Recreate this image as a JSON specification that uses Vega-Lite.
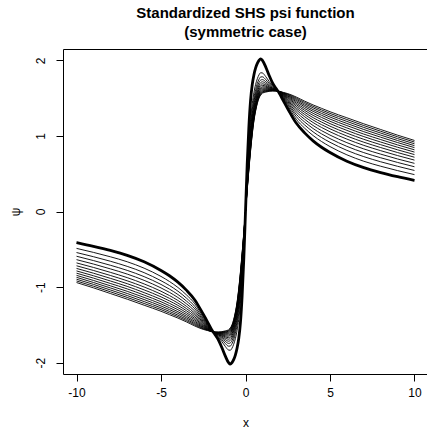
{
  "$schema": "https://vega.github.io/schema/vega-lite/v6.json",
  "width": 365,
  "height": 325,
  "autosize": {"type": "none"},
  "padding": {"left": 63, "top": 49, "right": 0, "bottom": 59},
  "background": "white",
  "title": {
    "text": ["Standardized SHS psi function", "(symmetric case)"],
    "font": "Liberation Sans",
    "fontSize": 15,
    "fontWeight": "bold",
    "color": "black",
    "anchor": "middle",
    "offset": 9,
    "lineHeight": 19
  },
  "config": {
    "view": {"stroke": "black", "strokeWidth": 1},
    "axis": {
      "domain": false,
      "grid": false,
      "ticks": true,
      "tickColor": "black",
      "tickSize": 7,
      "labelFont": "Liberation Sans",
      "labelFontSize": 12,
      "labelColor": "black",
      "titleFont": "Liberation Sans",
      "titleFontSize": 12,
      "titleFontWeight": "normal",
      "titleColor": "black"
    }
  },
  "data": {
    "values": [
      {"x": -10, "k0": -0.41, "k1": -0.488, "k2": -0.543, "k3": -0.592, "k4": -0.637, "k5": -0.68, "k6": -0.718, "k7": -0.753, "k8": -0.786, "k9": -0.816, "k10": -0.845, "k11": -0.871, "k12": -0.896, "k13": -0.919, "k14": -0.94},
      {"x": -9, "k0": -0.46, "k1": -0.541, "k2": -0.598, "k3": -0.649, "k4": -0.695, "k5": -0.74, "k6": -0.78, "k7": -0.816, "k8": -0.85, "k9": -0.881, "k10": -0.912, "k11": -0.939, "k12": -0.964, "k13": -0.988, "k14": -1.01},
      {"x": -8, "k0": -0.515, "k1": -0.599, "k2": -0.658, "k3": -0.711, "k4": -0.759, "k5": -0.805, "k6": -0.846, "k7": -0.884, "k8": -0.919, "k9": -0.952, "k10": -0.983, "k11": -1.011, "k12": -1.038, "k13": -1.062, "k14": -1.085},
      {"x": -7, "k0": -0.58, "k1": -0.665, "k2": -0.726, "k3": -0.779, "k4": -0.828, "k5": -0.875, "k6": -0.917, "k7": -0.955, "k8": -0.991, "k9": -1.024, "k10": -1.056, "k11": -1.085, "k12": -1.112, "k13": -1.137, "k14": -1.16},
      {"x": -6, "k0": -0.665, "k1": -0.75, "k2": -0.809, "k3": -0.862, "k4": -0.911, "k5": -0.958, "k6": -0.999, "k7": -1.037, "k8": -1.073, "k9": -1.106, "k10": -1.137, "k11": -1.165, "k12": -1.192, "k13": -1.217, "k14": -1.24},
      {"x": -5, "k0": -0.78, "k1": -0.859, "k2": -0.916, "k3": -0.965, "k4": -1.011, "k5": -1.055, "k6": -1.094, "k7": -1.129, "k8": -1.163, "k9": -1.194, "k10": -1.223, "k11": -1.25, "k12": -1.275, "k13": -1.298, "k14": -1.32},
      {"x": -4.5, "k0": -0.85, "k1": -0.926, "k2": -0.979, "k3": -1.027, "k4": -1.07, "k5": -1.112, "k6": -1.149, "k7": -1.183, "k8": -1.215, "k9": -1.245, "k10": -1.273, "k11": -1.298, "k12": -1.322, "k13": -1.344, "k14": -1.365},
      {"x": -4, "k0": -0.935, "k1": -1.005, "k2": -1.054, "k3": -1.098, "k4": -1.138, "k5": -1.177, "k6": -1.211, "k7": -1.242, "k8": -1.272, "k9": -1.299, "k10": -1.325, "k11": -1.348, "k12": -1.371, "k13": -1.391, "k14": -1.41},
      {"x": -3.5, "k0": -1.04, "k1": -1.102, "k2": -1.145, "k3": -1.184, "k4": -1.22, "k5": -1.254, "k6": -1.284, "k7": -1.312, "k8": -1.338, "k9": -1.362, "k10": -1.385, "k11": -1.405, "k12": -1.425, "k13": -1.443, "k14": -1.46},
      {"x": -3, "k0": -1.17, "k1": -1.221, "k2": -1.257, "k3": -1.288, "k4": -1.318, "k5": -1.346, "k6": -1.37, "k7": -1.393, "k8": -1.415, "k9": -1.434, "k10": -1.453, "k11": -1.47, "k12": -1.486, "k13": -1.501, "k14": -1.515},
      {"x": -2.5, "k0": -1.36, "k1": -1.399, "k2": -1.42, "k3": -1.438, "k4": -1.455, "k5": -1.47, "k6": -1.483, "k7": -1.496, "k8": -1.507, "k9": -1.518, "k10": -1.528, "k11": -1.537, "k12": -1.545, "k13": -1.553, "k14": -1.56},
      {"x": -2.25, "k0": -1.46, "k1": -1.488, "k2": -1.5, "k3": -1.511, "k4": -1.52, "k5": -1.528, "k6": -1.535, "k7": -1.542, "k8": -1.548, "k9": -1.553, "k10": -1.558, "k11": -1.563, "k12": -1.567, "k13": -1.571, "k14": -1.575},
      {"x": -2, "k0": -1.565, "k1": -1.572, "k2": -1.575, "k3": -1.577, "k4": -1.579, "k5": -1.581, "k6": -1.582, "k7": -1.584, "k8": -1.585, "k9": -1.586, "k10": -1.587, "k11": -1.588, "k12": -1.589, "k13": -1.589, "k14": -1.59},
      {"x": -1.8, "k0": -1.63, "k1": -1.618, "k2": -1.614, "k3": -1.611, "k4": -1.609, "k5": -1.606, "k6": -1.605, "k7": -1.603, "k8": -1.601, "k9": -1.6, "k10": -1.599, "k11": -1.598, "k12": -1.597, "k13": -1.596, "k14": -1.595},
      {"x": -1.6, "k0": -1.7, "k1": -1.66, "k2": -1.647, "k3": -1.638, "k4": -1.631, "k5": -1.625, "k6": -1.62, "k7": -1.616, "k8": -1.612, "k9": -1.608, "k10": -1.605, "k11": -1.602, "k12": -1.599, "k13": -1.597, "k14": -1.595},
      {"x": -1.4, "k0": -1.8, "k1": -1.72, "k2": -1.695, "k3": -1.677, "k4": -1.663, "k5": -1.65, "k6": -1.64, "k7": -1.631, "k8": -1.623, "k9": -1.616, "k10": -1.61, "k11": -1.604, "k12": -1.599, "k13": -1.594, "k14": -1.59},
      {"x": -1.2, "k0": -1.91, "k1": -1.784, "k2": -1.745, "k3": -1.717, "k4": -1.694, "k5": -1.675, "k6": -1.659, "k7": -1.645, "k8": -1.632, "k9": -1.621, "k10": -1.611, "k11": -1.602, "k12": -1.594, "k13": -1.587, "k14": -1.58},
      {"x": -1, "k0": -2.0, "k1": -1.833, "k2": -1.782, "k3": -1.745, "k4": -1.716, "k5": -1.69, "k6": -1.669, "k7": -1.65, "k8": -1.634, "k9": -1.619, "k10": -1.606, "k11": -1.594, "k12": -1.583, "k13": -1.574, "k14": -1.565},
      {"x": -0.9, "k0": -2.02, "k1": -1.836, "k2": -1.78, "k3": -1.739, "k4": -1.706, "k5": -1.678, "k6": -1.654, "k7": -1.634, "k8": -1.616, "k9": -1.6, "k10": -1.585, "k11": -1.572, "k12": -1.56, "k13": -1.55, "k14": -1.54},
      {"x": -0.8, "k0": -2.0, "k1": -1.809, "k2": -1.75, "k3": -1.707, "k4": -1.673, "k5": -1.644, "k6": -1.619, "k7": -1.598, "k8": -1.579, "k9": -1.563, "k10": -1.547, "k11": -1.534, "k12": -1.521, "k13": -1.51, "k14": -1.5},
      {"x": -0.7, "k0": -1.96, "k1": -1.757, "k2": -1.695, "k3": -1.649, "k4": -1.613, "k5": -1.582, "k6": -1.556, "k7": -1.534, "k8": -1.514, "k9": -1.496, "k10": -1.48, "k11": -1.466, "k12": -1.452, "k13": -1.441, "k14": -1.43},
      {"x": -0.6, "k0": -1.9, "k1": -1.682, "k2": -1.614, "k3": -1.566, "k4": -1.527, "k5": -1.494, "k6": -1.466, "k7": -1.442, "k8": -1.42, "k9": -1.401, "k10": -1.384, "k11": -1.368, "k12": -1.354, "k13": -1.341, "k14": -1.33},
      {"x": -0.5, "k0": -1.81, "k1": -1.576, "k2": -1.504, "k3": -1.453, "k4": -1.411, "k5": -1.375, "k6": -1.345, "k7": -1.32, "k8": -1.296, "k9": -1.276, "k10": -1.257, "k11": -1.241, "k12": -1.226, "k13": -1.212, "k14": -1.2},
      {"x": -0.4, "k0": -1.68, "k1": -1.427, "k2": -1.349, "k3": -1.293, "k4": -1.248, "k5": -1.209, "k6": -1.177, "k7": -1.149, "k8": -1.124, "k9": -1.103, "k10": -1.082, "k11": -1.064, "k12": -1.048, "k13": -1.033, "k14": -1.02},
      {"x": -0.3, "k0": -1.47, "k1": -1.213, "k2": -1.134, "k3": -1.077, "k4": -1.032, "k5": -0.992, "k6": -0.96, "k7": -0.931, "k8": -0.906, "k9": -0.884, "k10": -0.863, "k11": -0.845, "k12": -0.828, "k13": -0.813, "k14": -0.8},
      {"x": -0.2, "k0": -1.12, "k1": -0.902, "k2": -0.834, "k3": -0.786, "k4": -0.747, "k5": -0.714, "k6": -0.686, "k7": -0.662, "k8": -0.64, "k9": -0.621, "k10": -0.604, "k11": -0.588, "k12": -0.574, "k13": -0.561, "k14": -0.55},
      {"x": -0.1, "k0": -0.62, "k1": -0.49, "k2": -0.45, "k3": -0.421, "k4": -0.398, "k5": -0.378, "k6": -0.361, "k7": -0.347, "k8": -0.334, "k9": -0.322, "k10": -0.312, "k11": -0.303, "k12": -0.294, "k13": -0.287, "k14": -0.28},
      {"x": 0, "k0": 0, "k1": 0, "k2": 0, "k3": 0, "k4": 0, "k5": 0, "k6": 0, "k7": 0, "k8": 0, "k9": 0, "k10": 0, "k11": 0, "k12": 0, "k13": 0, "k14": 0},
      {"x": 0.1, "k0": 0.62, "k1": 0.49, "k2": 0.45, "k3": 0.421, "k4": 0.398, "k5": 0.378, "k6": 0.361, "k7": 0.347, "k8": 0.334, "k9": 0.322, "k10": 0.312, "k11": 0.303, "k12": 0.294, "k13": 0.287, "k14": 0.28},
      {"x": 0.2, "k0": 1.12, "k1": 0.902, "k2": 0.834, "k3": 0.786, "k4": 0.747, "k5": 0.714, "k6": 0.686, "k7": 0.662, "k8": 0.64, "k9": 0.621, "k10": 0.604, "k11": 0.588, "k12": 0.574, "k13": 0.561, "k14": 0.55},
      {"x": 0.3, "k0": 1.47, "k1": 1.213, "k2": 1.134, "k3": 1.077, "k4": 1.032, "k5": 0.992, "k6": 0.96, "k7": 0.931, "k8": 0.906, "k9": 0.884, "k10": 0.863, "k11": 0.845, "k12": 0.828, "k13": 0.813, "k14": 0.8},
      {"x": 0.4, "k0": 1.68, "k1": 1.427, "k2": 1.349, "k3": 1.293, "k4": 1.248, "k5": 1.209, "k6": 1.177, "k7": 1.149, "k8": 1.124, "k9": 1.103, "k10": 1.082, "k11": 1.064, "k12": 1.048, "k13": 1.033, "k14": 1.02},
      {"x": 0.5, "k0": 1.81, "k1": 1.576, "k2": 1.504, "k3": 1.453, "k4": 1.411, "k5": 1.375, "k6": 1.345, "k7": 1.32, "k8": 1.296, "k9": 1.276, "k10": 1.257, "k11": 1.241, "k12": 1.226, "k13": 1.212, "k14": 1.2},
      {"x": 0.6, "k0": 1.9, "k1": 1.682, "k2": 1.614, "k3": 1.566, "k4": 1.527, "k5": 1.494, "k6": 1.466, "k7": 1.442, "k8": 1.42, "k9": 1.401, "k10": 1.384, "k11": 1.368, "k12": 1.354, "k13": 1.341, "k14": 1.33},
      {"x": 0.7, "k0": 1.96, "k1": 1.757, "k2": 1.695, "k3": 1.649, "k4": 1.613, "k5": 1.582, "k6": 1.556, "k7": 1.534, "k8": 1.514, "k9": 1.496, "k10": 1.48, "k11": 1.466, "k12": 1.452, "k13": 1.441, "k14": 1.43},
      {"x": 0.8, "k0": 2.0, "k1": 1.809, "k2": 1.75, "k3": 1.707, "k4": 1.673, "k5": 1.644, "k6": 1.619, "k7": 1.598, "k8": 1.579, "k9": 1.563, "k10": 1.547, "k11": 1.534, "k12": 1.521, "k13": 1.51, "k14": 1.5},
      {"x": 0.9, "k0": 2.02, "k1": 1.836, "k2": 1.78, "k3": 1.739, "k4": 1.706, "k5": 1.678, "k6": 1.654, "k7": 1.634, "k8": 1.616, "k9": 1.6, "k10": 1.585, "k11": 1.572, "k12": 1.56, "k13": 1.55, "k14": 1.54},
      {"x": 1, "k0": 2.0, "k1": 1.833, "k2": 1.782, "k3": 1.745, "k4": 1.716, "k5": 1.69, "k6": 1.669, "k7": 1.65, "k8": 1.634, "k9": 1.619, "k10": 1.606, "k11": 1.594, "k12": 1.583, "k13": 1.574, "k14": 1.565},
      {"x": 1.2, "k0": 1.91, "k1": 1.784, "k2": 1.745, "k3": 1.717, "k4": 1.694, "k5": 1.675, "k6": 1.659, "k7": 1.645, "k8": 1.632, "k9": 1.621, "k10": 1.611, "k11": 1.602, "k12": 1.594, "k13": 1.587, "k14": 1.58},
      {"x": 1.4, "k0": 1.8, "k1": 1.72, "k2": 1.695, "k3": 1.677, "k4": 1.663, "k5": 1.65, "k6": 1.64, "k7": 1.631, "k8": 1.623, "k9": 1.616, "k10": 1.61, "k11": 1.604, "k12": 1.599, "k13": 1.594, "k14": 1.59},
      {"x": 1.6, "k0": 1.7, "k1": 1.66, "k2": 1.647, "k3": 1.638, "k4": 1.631, "k5": 1.625, "k6": 1.62, "k7": 1.616, "k8": 1.612, "k9": 1.608, "k10": 1.605, "k11": 1.602, "k12": 1.599, "k13": 1.597, "k14": 1.595},
      {"x": 1.8, "k0": 1.63, "k1": 1.618, "k2": 1.614, "k3": 1.611, "k4": 1.609, "k5": 1.606, "k6": 1.605, "k7": 1.603, "k8": 1.601, "k9": 1.6, "k10": 1.599, "k11": 1.598, "k12": 1.597, "k13": 1.596, "k14": 1.595},
      {"x": 2, "k0": 1.565, "k1": 1.572, "k2": 1.575, "k3": 1.577, "k4": 1.579, "k5": 1.581, "k6": 1.582, "k7": 1.584, "k8": 1.585, "k9": 1.586, "k10": 1.587, "k11": 1.588, "k12": 1.589, "k13": 1.589, "k14": 1.59},
      {"x": 2.25, "k0": 1.46, "k1": 1.488, "k2": 1.5, "k3": 1.511, "k4": 1.52, "k5": 1.528, "k6": 1.535, "k7": 1.542, "k8": 1.548, "k9": 1.553, "k10": 1.558, "k11": 1.563, "k12": 1.567, "k13": 1.571, "k14": 1.575},
      {"x": 2.5, "k0": 1.36, "k1": 1.399, "k2": 1.42, "k3": 1.438, "k4": 1.455, "k5": 1.47, "k6": 1.483, "k7": 1.496, "k8": 1.507, "k9": 1.518, "k10": 1.528, "k11": 1.537, "k12": 1.545, "k13": 1.553, "k14": 1.56},
      {"x": 3, "k0": 1.17, "k1": 1.221, "k2": 1.257, "k3": 1.288, "k4": 1.318, "k5": 1.346, "k6": 1.37, "k7": 1.393, "k8": 1.415, "k9": 1.434, "k10": 1.453, "k11": 1.47, "k12": 1.486, "k13": 1.501, "k14": 1.515},
      {"x": 3.5, "k0": 1.04, "k1": 1.102, "k2": 1.145, "k3": 1.184, "k4": 1.22, "k5": 1.254, "k6": 1.284, "k7": 1.312, "k8": 1.338, "k9": 1.362, "k10": 1.385, "k11": 1.405, "k12": 1.425, "k13": 1.443, "k14": 1.46},
      {"x": 4, "k0": 0.935, "k1": 1.005, "k2": 1.054, "k3": 1.098, "k4": 1.138, "k5": 1.177, "k6": 1.211, "k7": 1.242, "k8": 1.272, "k9": 1.299, "k10": 1.325, "k11": 1.348, "k12": 1.371, "k13": 1.391, "k14": 1.41},
      {"x": 4.5, "k0": 0.85, "k1": 0.926, "k2": 0.979, "k3": 1.027, "k4": 1.07, "k5": 1.112, "k6": 1.149, "k7": 1.183, "k8": 1.215, "k9": 1.245, "k10": 1.273, "k11": 1.298, "k12": 1.322, "k13": 1.344, "k14": 1.365},
      {"x": 5, "k0": 0.78, "k1": 0.859, "k2": 0.916, "k3": 0.965, "k4": 1.011, "k5": 1.055, "k6": 1.094, "k7": 1.129, "k8": 1.163, "k9": 1.194, "k10": 1.223, "k11": 1.25, "k12": 1.275, "k13": 1.298, "k14": 1.32},
      {"x": 6, "k0": 0.665, "k1": 0.75, "k2": 0.809, "k3": 0.862, "k4": 0.911, "k5": 0.958, "k6": 0.999, "k7": 1.037, "k8": 1.073, "k9": 1.106, "k10": 1.137, "k11": 1.165, "k12": 1.192, "k13": 1.217, "k14": 1.24},
      {"x": 7, "k0": 0.58, "k1": 0.665, "k2": 0.726, "k3": 0.779, "k4": 0.828, "k5": 0.875, "k6": 0.917, "k7": 0.955, "k8": 0.991, "k9": 1.024, "k10": 1.056, "k11": 1.085, "k12": 1.112, "k13": 1.137, "k14": 1.16},
      {"x": 8, "k0": 0.515, "k1": 0.599, "k2": 0.658, "k3": 0.711, "k4": 0.759, "k5": 0.805, "k6": 0.846, "k7": 0.884, "k8": 0.919, "k9": 0.952, "k10": 0.983, "k11": 1.011, "k12": 1.038, "k13": 1.062, "k14": 1.085},
      {"x": 9, "k0": 0.46, "k1": 0.541, "k2": 0.598, "k3": 0.649, "k4": 0.695, "k5": 0.74, "k6": 0.78, "k7": 0.816, "k8": 0.85, "k9": 0.881, "k10": 0.912, "k11": 0.939, "k12": 0.964, "k13": 0.988, "k14": 1.01},
      {"x": 10, "k0": 0.41, "k1": 0.488, "k2": 0.543, "k3": 0.592, "k4": 0.637, "k5": 0.68, "k6": 0.718, "k7": 0.753, "k8": 0.786, "k9": 0.816, "k10": 0.845, "k11": 0.871, "k12": 0.896, "k13": 0.919, "k14": 0.94}
    ]
  },
  "transform": [
    {"fold": ["k0", "k1", "k2", "k3", "k4", "k5", "k6", "k7", "k8", "k9", "k10", "k11", "k12", "k13", "k14"], "as": ["key", "psi"]}
  ],
  "encoding": {
    "x": {
      "field": "x",
      "type": "quantitative",
      "scale": {"domain": [-10.8, 10.8], "nice": false, "zero": false},
      "axis": {"values": [-10, -5, 0, 5, 10], "title": "x", "labelExpr": "'' + datum.value", "labelPadding": 6, "titlePadding": 19}
    },
    "y": {
      "field": "psi",
      "type": "quantitative",
      "scale": {"domain": [-2.15, 2.15], "nice": false, "zero": false},
      "axis": {"values": [-2, -1, 0, 1, 2], "title": "ψ", "labelExpr": "'' + datum.value", "labelAngle": -90, "labelAlign": "center", "labelBaseline": "bottom", "labelPadding": 9, "titlePadding": 12}
    },
    "detail": {"field": "key", "type": "nominal"}
  },
  "layer": [
    {
      "transform": [{"filter": "datum.key !== 'k0'"}],
      "mark": {"type": "line", "color": "black", "strokeWidth": 0.9, "interpolate": "monotone"}
    },
    {
      "transform": [{"filter": "datum.key === 'k0'"}],
      "mark": {"type": "line", "color": "black", "strokeWidth": 2.8, "interpolate": "monotone"}
    }
  ]
}
